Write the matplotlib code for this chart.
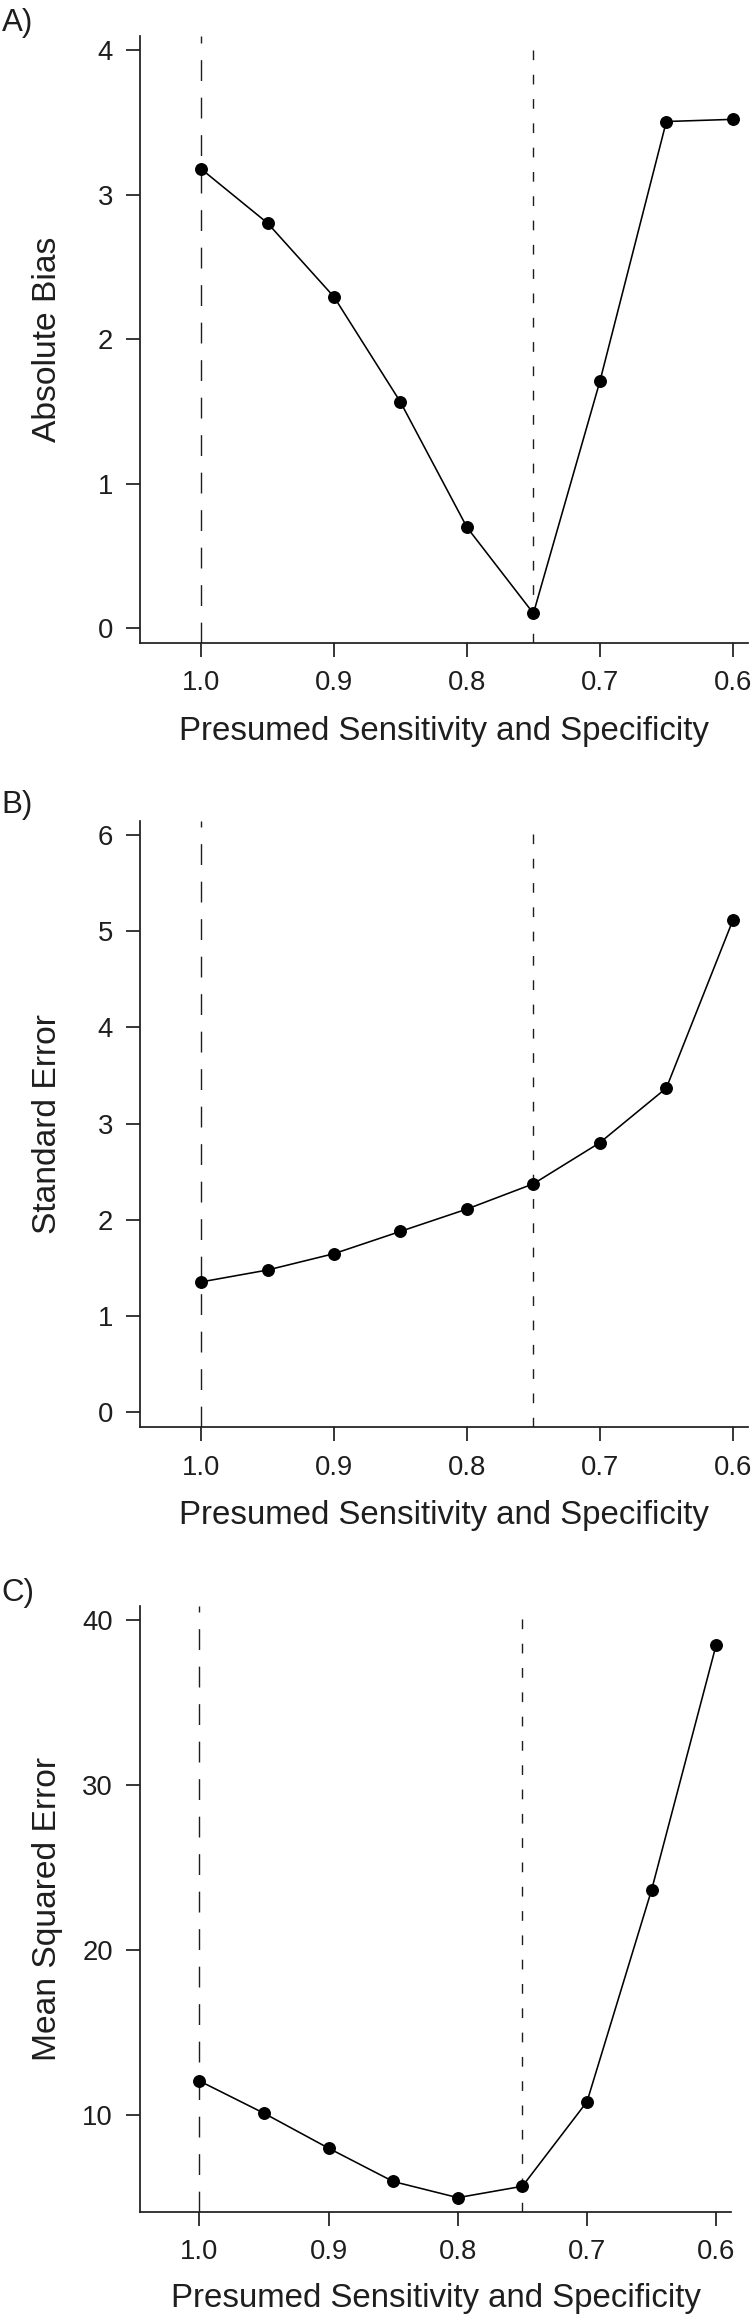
import matplotlib
matplotlib.use("Agg")
import matplotlib.pyplot as plt

plt.rcParams['font.family'] = ['Liberation Sans', 'DejaVu Sans']
plt.rcParams['lines.scale_dashes'] = False

# ---- data ----
x_vals = [1.00, 0.95, 0.90, 0.85, 0.80, 0.75, 0.70, 0.65, 0.60]
abs_bias = [3.18, 2.805, 2.294, 1.566, 0.699, 0.103, 1.709, 3.508, 3.523]
std_err = [1.352, 1.476, 1.646, 1.878, 2.110, 2.373, 2.801, 3.369, 5.113]
mse = [12.05, 10.09, 7.97, 5.95, 4.97, 5.66, 10.79, 23.64, 38.51]
x_ticks = [1.0, 0.9, 0.8, 0.7, 0.6]
x_ticklabels = ['1.0', '0.9', '0.8', '0.7', '0.6']
true_value = 0.75
reference_value = 1.0
xlabel = 'Presumed Sensitivity and Specificity'
panels = [
    dict(tag='A)', y=abs_bias, ylabel='Absolute Bias', yticks=[0, 1, 2, 3, 4], ylim=(-0.1, 4.1)),
    dict(tag='B)', y=std_err, ylabel='Standard Error', yticks=[0, 1, 2, 3, 4, 5, 6], ylim=(-0.16, 6.15)),
    dict(tag='C)', y=mse, ylabel='Mean Squared Error', yticks=[10, 20, 30, 40], ylim=(4.10, 40.87)),
]

W, H = 751, 2318
fig = plt.figure(figsize=(W / 100, H / 100), dpi=100)
ink = '#1e1e1e'

# axes boxes in pixels: left, right, top, bottom
boxes = [
    (140.3, 747.7, 36.0, 642.7),
    (140.3, 747.7, 820.7, 1427.3),
    (140.3, 730.7, 1605.7, 2212.0),
]
tag_baselines = [30.5, 813.3, 1601.5]
xlabel_offsets = [97.3, 96.7, 95.5]

for p, (l, r, t, b), tb, xo in zip(panels, boxes, tag_baselines, xlabel_offsets):
    wpx, hpx = r - l, b - t
    ax = fig.add_axes([l / W, 1 - b / H, wpx / W, hpx / H])
    ax.axvline(reference_value, color=ink, lw=1.0, dashes=(15, 12))
    ax.axvline(true_value, color=ink, lw=1.0, dashes=(7, 10.5))
    ax.plot(x_vals, p['y'], color='black', lw=1.15, marker='o', markersize=8.3,
            markerfacecolor='black', markeredgecolor='black')
    ax.set_xlim(1.0457, 0.5888)
    ax.set_ylim(*p['ylim'])
    ax.set_xticks(x_ticks)
    ax.set_xticklabels(x_ticklabels)
    ax.set_yticks(p['yticks'])
    ax.set_yticklabels([str(v) for v in p['yticks']])
    for s in ['top', 'right']:
        ax.spines[s].set_visible(False)
    for s in ['left', 'bottom']:
        ax.spines[s].set_linewidth(1.25)
        ax.spines[s].set_color(ink)
    ax.tick_params(axis='both', direction='out', length=10, width=1.25, labelsize=19.8,
                   colors=ink)
    ax.tick_params(axis='x', pad=9.6)
    ax.tick_params(axis='y', pad=9.6)
    ax.set_xlabel(xlabel, fontsize=23.8, color=ink)
    ax.xaxis.label.set_va('baseline')
    ax.xaxis.set_label_coords(0.5, -xo / hpx)
    ax.set_ylabel(p['ylabel'], fontsize=24.2, color=ink)
    ax.yaxis.label.set_va('center')
    ax.yaxis.set_label_coords((47.5 - l) / wpx, 0.5)
    fig.text(1.5 / W, 1 - tb / H, p['tag'], fontsize=22.5, ha='left', va='baseline', color=ink)

fig.savefig('out.png', dpi=100, facecolor='white')
